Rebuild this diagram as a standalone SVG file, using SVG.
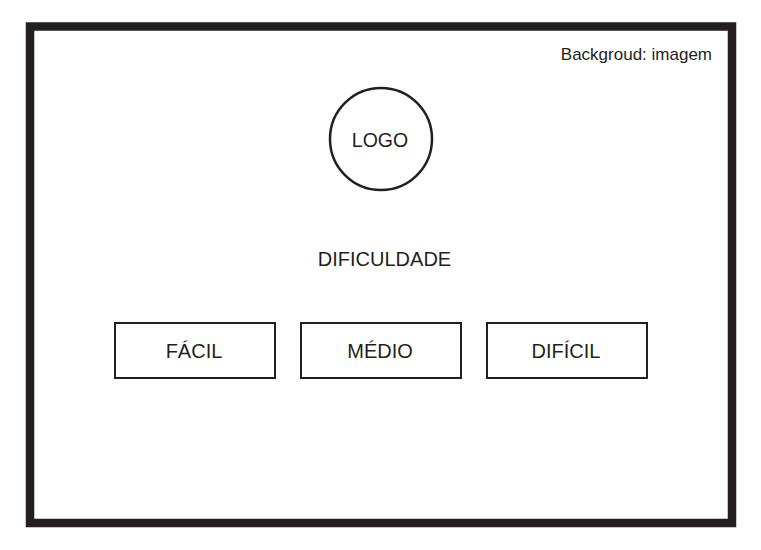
<svg xmlns="http://www.w3.org/2000/svg" width="761" height="550" viewBox="0 0 761 550">
<style>
text{font-family:"Liberation Sans",Arial,sans-serif;fill:#231f20}
.btn{fill:#fff;stroke:#231f20;stroke-width:2}
.lbl{font-size:20px;text-anchor:middle}
</style>
<rect width="761" height="550" fill="#fff"/>
<g id="frame"><rect x="30" y="26.5" width="702" height="496.5" fill="#fff" stroke="#231f20" stroke-width="8.5"/></g>
<g id="bg-label"><text x="712" y="60" font-size="17" text-anchor="end">Backgroud: imagem</text></g>
<g id="logo"><circle cx="381" cy="139" r="51" fill="#fff" stroke="#231f20" stroke-width="2.5"/><text x="380" y="147" font-size="19.5" text-anchor="middle">LOGO</text></g>
<g id="title"><text class="lbl" x="384.5" y="266">DIFICULDADE</text></g>
<g id="facil"><rect class="btn" x="115" y="323" width="160" height="55"/><text class="lbl" x="194" y="358">FÁCIL</text></g>
<g id="medio"><rect class="btn" x="301" y="323" width="160" height="55"/><text class="lbl" x="380" y="358">MÉDIO</text></g>
<g id="dificil"><rect class="btn" x="487" y="323" width="160" height="55"/><text class="lbl" x="566" y="358">DIFÍCIL</text></g>
<g id="connectors"/>
</svg>
